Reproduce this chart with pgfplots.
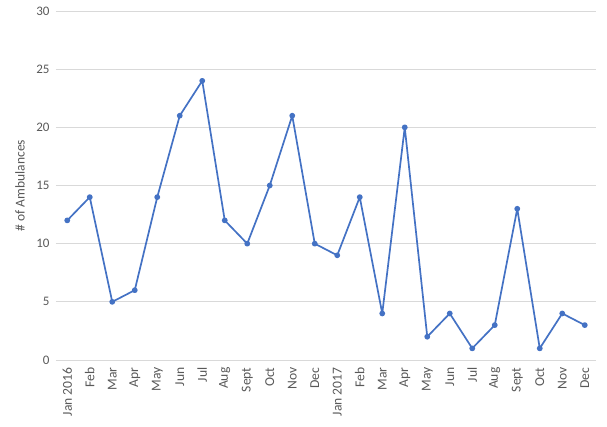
\documentclass[border=0pt]{standalone}
\usepackage{pgfplots}
\pgfplotsset{compat=1.18}
\usepackage{fontspec}
\setmainfont{Carlito}
\definecolor{lineblue}{HTML}{4472C4}
\definecolor{tickgray}{HTML}{595959}
\definecolor{gridgray}{HTML}{D9D9D9}
\begin{document}
\begin{tikzpicture}
\useasboundingbox (-56pt,-66pt) rectangle (551pt,360pt);
\begin{axis}[
  scale only axis,
  width=540pt, height=349pt,
  xmin=-0.5, xmax=23.5,
  ymin=0, ymax=30,
  ytick={0,5,10,15,20,25,30},
  xtick={0,...,23},
  xticklabels={Jan 2016,Feb,Mar,Apr,May,Jun,Jul,Aug,Sept,Oct,Nov,Dec,Jan 2017,Feb,Mar,Apr,May,Jun,Jul,Aug,Sept,Oct,Nov,Dec},
  x tick label style={rotate=90, anchor=east, font=\fontsize{13.6}{15}\selectfont, text=tickgray},
  xticklabel shift=4pt,
  y tick label style={font=\fontsize{13}{15}\selectfont, text=tickgray, xshift=-3pt},
  /pgf/number format/assume math mode=true,
  ymajorgrids,
  grid style={gridgray, line width=0.8pt},
  axis line style={draw=none},
  major tick length=0pt,
  ylabel={\# of Ambulances},
  every axis y label/.style={at={(axis description cs:-0.0667,0.5)}, rotate=90, anchor=center, font=\fontsize{13.5}{15}\selectfont, text=tickgray},
  clip=false,
]
\addplot[lineblue, line width=1.7pt, line join=round, mark=*, mark size=2pt, mark options={fill=lineblue, draw=lineblue}] coordinates {
(0,12) (1,14) (2,5) (3,6) (4,14) (5,21) (6,24) (7,12) (8,10) (9,15) (10,21) (11,10)
(12,9) (13,14) (14,4) (15,20) (16,2) (17,4) (18,1) (19,3) (20,13) (21,1) (22,4) (23,3)
};
\end{axis}
\end{tikzpicture}
\end{document}
